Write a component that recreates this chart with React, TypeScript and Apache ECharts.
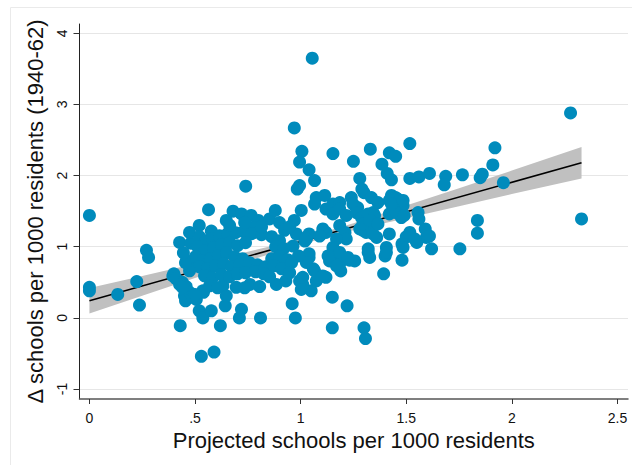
import React, { useEffect, useRef } from "react";
import * as echarts from "echarts";

// Tick values
const xTicks = [0, 0.5, 1, 1.5, 2, 2.5];
const yTicks = [-1, 0, 1, 2, 3, 4];

// Fitted line
const lineX = [0, 2.33];
const lineY = [0.24, 2.18];

// Confidence band
const bandX = [0, 0.25, 0.5, 0.75, 1.0, 1.25, 1.5, 1.75, 2.0, 2.33];
const bandLow = [0.06, 0.31, 0.56, 0.8, 1.03, 1.23, 1.4, 1.57, 1.74, 1.96];
const bandHigh = [0.42, 0.59, 0.76, 0.93, 1.11, 1.33, 1.58, 1.82, 2.07, 2.4];

// Observations: projected schools (x), change in schools (y)
const pointX = [
  0, 0, 0, 0.134, 0.224, 0.237, 0.27, 0.28, 0.395, 0.4, 0.41, 0.43, 0.427, 0.48, 0.474, 0.52, 0.564, 0.577, 0.52, 0.458,
  0.44, 0.458, 0.45, 0.455, 0.506, 0.52, 0.537, 0.577, 0.54, 0.53, 0.59, 0.62, 0.643, 0.648, 0.71, 0.72, 0.81, 0.695, 0.76, 0.806,
  0.885, 0.93, 0.96, 0.975, 1.003, 0.995, 1.05, 1.12, 1.15, 1.15, 1.22, 1.3, 1.307, 0.427, 0.474, 0.44, 0.537, 0.632, 0.46, 0.48,
  0.49, 0.5, 0.53, 0.648, 0.68, 0.72, 0.766, 0.8, 0.78, 0.853, 0.88, 0.9, 0.924, 0.97, 1.003, 0.98, 1.027, 1.04, 1.066, 1.074,
  0.984, 0.995, 0.74, 1.055, 0.97, 1.006, 0.995, 1.04, 1.066, 1.153, 1.25, 1.28, 1.33, 1.42, 1.45, 1.517, 1.385, 1.41, 1.43, 1.517,
  1.56, 1.61, 1.687, 1.68, 1.766, 1.85, 1.86, 1.91, 1.92, 1.96, 2.278, 2.33, 1.837, 1.837, 1.754, 1.62, 1.595, 1.59, 1.556, 1.56,
  1.55, 1.5, 1.48, 1.48, 1.46, 1.477, 1.43, 1.42, 1.42, 1.406, 1.4, 1.393, 1.36, 1.335, 1.343, 1.32, 1.327, 1.31, 1.295, 1.27,
  1.256, 1.232, 1.19, 1.185, 1.185, 1.153, 1.153, 1.066, 1.01, 1.074, 1.04, 1.027, 1.45, 1.485, 1.42, 1.114, 1.153, 1.185, 1.24, 1.3,
  1.335, 1.366, 1.477, 1.453, 1.49, 1.12, 1.153, 1.185, 1.216, 1.248, 1.264, 1.288, 1.32, 1.35, 1.343, 1.12, 1.105, 1.09, 1.02, 0.964,
  1.185, 1.21, 1.216, 1.17, 1.153, 1.185, 1.224, 1.13, 1.137, 1.17, 1.28, 1.31, 1.343, 1.295, 1.327, 1.366, 1.406, 1.32, 1.517, 1.61,
  1.04, 1.06, 1.027, 0.99, 1.01, 1.105, 1.29, 1.43, 1.485, 1.54, 1.485,
  0.521, 0.55, 0.583, 0.616, 0.654, 0.692, 0.73, 0.768, 0.815, 0.863, 0.9, 0.512, 0.545, 0.588, 0.626, 0.664, 0.701, 0.739, 0.882, 0.919,
  0.502, 0.536, 0.573, 0.611, 0.649, 0.687, 0.725, 0.863, 0.9, 0.938, 0.521, 0.559, 0.597, 0.635, 0.673, 0.711, 0.758, 0.796, 0.834, 0.872,
  0.91, 0.545, 0.583, 0.626, 0.664, 0.701, 0.739, 0.787, 0.825, 0.853, 0.569, 0.607, 0.735, 0.474, 0.455, 0.445, 0.664, 0.735, 0.815, 0.948,
  0.957, 0.948,
];
const pointY = [
  1.44, 0.43, 0.38, 0.33, 0.51, 0.18, 0.95, 0.85, 0.59, 0.62, 0.55, -0.11, 1.06, 1.05, 1.2, 1.3, 1.52, 1.22, 0.83, 0.78,
  0.5, 0.44, 0.31, 0.24, 0.26, 0.1, 0.0, 0.1, 0.36, -0.54, -0.48, -0.11, 0.17, 0.31, 0.0, 0.12, 0.0, 0.43, 0.47, 0.44,
  0.47, 0.52, 0.2, 0.0, 0.4, 0.52, 0.38, 0.57, 0.29, -0.14, 0.17, -0.14, -0.29, 0.47, 0.36, 0.43, 0.38, 0.45, 0.8, 0.73,
  0.29, 0.33, 0.8, 1.37, 1.5, 1.46, 1.44, 1.37, 1.27, 1.39, 1.51, 1.34, 1.23, 1.37, 1.51, 1.18, 1.13, 1.18, 1.6, 1.69,
  1.81, 1.86, 1.85, 3.65, 2.67, 2.34, 2.19, 2.08, 1.93, 2.31, 2.2, 1.96, 2.37, 2.32, 2.27, 2.45, 2.16, 2.03, 1.94, 1.96,
  1.98, 2.03, 1.99, 1.87, 2.01, 1.97, 2.02, 2.15, 2.39, 1.9, 2.88, 1.39, 1.37, 1.19, 0.97, 0.97, 1.13, 1.25, 1.48, 1.39,
  1.06, 1.14, 0.81, 1.04, 1.67, 1.41, 1.72, 1.46, 1.18, 0.99, 0.87, 0.62, 1.13, 1.3, 1.48, 0.92, 0.85, 1.41, 1.23, 1.55,
  0.8, 0.81, 0.66, 0.85, 0.76, 0.81, 0.92, 0.66, 0.47, 0.52, 0.85, 1.11, 1.69, 1.58, 1.65, 1.72, 1.6, 1.62, 1.69, 1.76,
  1.69, 1.62, 1.6, 1.48, 1.44, 1.53, 1.46, 1.53, 1.44, 1.6, 1.48, 1.41, 1.46, 1.44, 1.34, 1.2, 1.25, 1.15, 1.08, 1.01,
  1.3, 1.2, 1.11, 1.11, 0.99, 0.92, 0.85, 0.87, 0.8, 0.73, 1.25, 1.2, 1.18, 1.32, 1.37, 1.32, 0.92, 0.97, 1.2, 1.15,
  0.9, 0.69, 0.78, 0.87, 0.57, 0.59, 1.81, 1.6, 1.65, 1.11, 0.99,
  1.141, 1.085, 1.113, 1.155, 1.183, 1.197, 1.211, 1.183, 1.169, 1.141, 1.085, 1.0, 0.944, 0.986, 1.028, 1.056, 1.014, 1.056, 1.0, 0.972,
  0.859, 0.803, 0.831, 0.873, 0.915, 0.859, 0.831, 0.831, 0.859, 0.817, 0.718, 0.69, 0.732, 0.761, 0.718, 0.746, 0.775, 0.746, 0.718, 0.732,
  0.69, 0.592, 0.563, 0.606, 0.577, 0.62, 0.634, 0.648, 0.62, 0.577, 0.451, 0.423, 0.423, 0.662, 0.775, 0.915, 1.3, 1.34, 1.28, 1.28,
  0.775, 0.634,
];

// Titles
const xTitle = "Projected schools per 1000 residents";
const yTitle = "\u0394 schools per 1000 residents (1940-62)";

const FONT = '"Liberation Sans", Arial, Helvetica, sans-serif';

function fmtX(v: number): string {
  if (v === 0) return "0";
  const s = String(v);
  return s.startsWith("0.") ? s.slice(1) : s;
}

export default function App() {
  const ref = useRef<HTMLDivElement>(null);

  useEffect(() => {
    if (!ref.current) return;
    const chart = echarts.init(ref.current, null, { renderer: "svg" });
    const points = pointX.map((x, i) => [x, pointY[i]]);
    const linePts = lineX.map((x, i) => [x, lineY[i]]);

    chart.setOption({
      animation: false,
      backgroundColor: "#ffffff",
      textStyle: { fontFamily: FONT },
      graphic: [
        {
          type: "rect",
          z: -10,
          silent: true,
          shape: { x: 10.5, y: 7.5, width: 700, height: 500 },
          style: { fill: "none", stroke: "#eaeaea", lineWidth: 1 },
        },
      ],
      grid: { left: 79.5, right: 4, top: 24, bottom: 66, containLabel: false },
      xAxis: {
        type: "value",
        min: -0.047,
        max: 2.55,
        name: xTitle,
        nameLocation: "middle",
        nameGap: 25,
        nameTextStyle: { fontSize: 22, color: "#111", fontFamily: FONT },
        axisLine: { show: true, onZero: false, lineStyle: { color: "#555", width: 1.5 } },
        axisTick: { show: true, length: 5, customValues: xTicks, lineStyle: { color: "#333" } },
        axisLabel: {
          customValues: xTicks,
          fontSize: 14,
          margin: 12,
          color: "#111",
          fontFamily: FONT,
          formatter: (v: number) => fmtX(v),
        },
        splitLine: { show: false },
      },
      yAxis: {
        type: "value",
        min: -1.14,
        max: 4.13,
        name: yTitle,
        nameLocation: "middle",
        nameGap: 30,
        nameTextStyle: { fontSize: 22, color: "#111", fontFamily: FONT },
        axisLine: { show: true, onZero: false, lineStyle: { color: "#222", width: 1 } },
        axisTick: { show: true, length: 6, customValues: yTicks, lineStyle: { color: "#333" } },
        axisLabel: {
          customValues: yTicks,
          rotate: 90,
          fontSize: 14,
          margin: 11,
          color: "#111",
          fontFamily: FONT,
        },
        splitLine: { show: true, lineStyle: { color: "#e6e6e6", width: 1.2 } },
      },
      series: [
        {
          type: "custom",
          z: 1,
          silent: true,
          data: [[0, 0]],
          renderItem: (_params: any, api: any) => {
            const upper = bandX.map((x, i) => api.coord([x, bandHigh[i]]));
            const lower = bandX.map((x, i) => api.coord([x, bandLow[i]])).reverse();
            return {
              type: "polygon",
              shape: { points: upper.concat(lower) },
              style: { fill: "#c0c0c0", stroke: "none" },
            };
          },
        },
        {
          type: "line",
          z: 2,
          data: linePts,
          symbol: "none",
          silent: true,
          lineStyle: { color: "#000", width: 1.5 },
        },
        {
          type: "scatter",
          z: 3,
          data: points,
          symbol: "circle",
          symbolSize: 13,
          itemStyle: { color: "#008bbc", opacity: 1 },
        },
      ],
    });

    return () => chart.dispose();
  }, []);

  return (
    <div
      ref={ref}
      style={{ position: "fixed", left: 0, top: 0, width: 632, height: 465 }}
    />
  );
}
